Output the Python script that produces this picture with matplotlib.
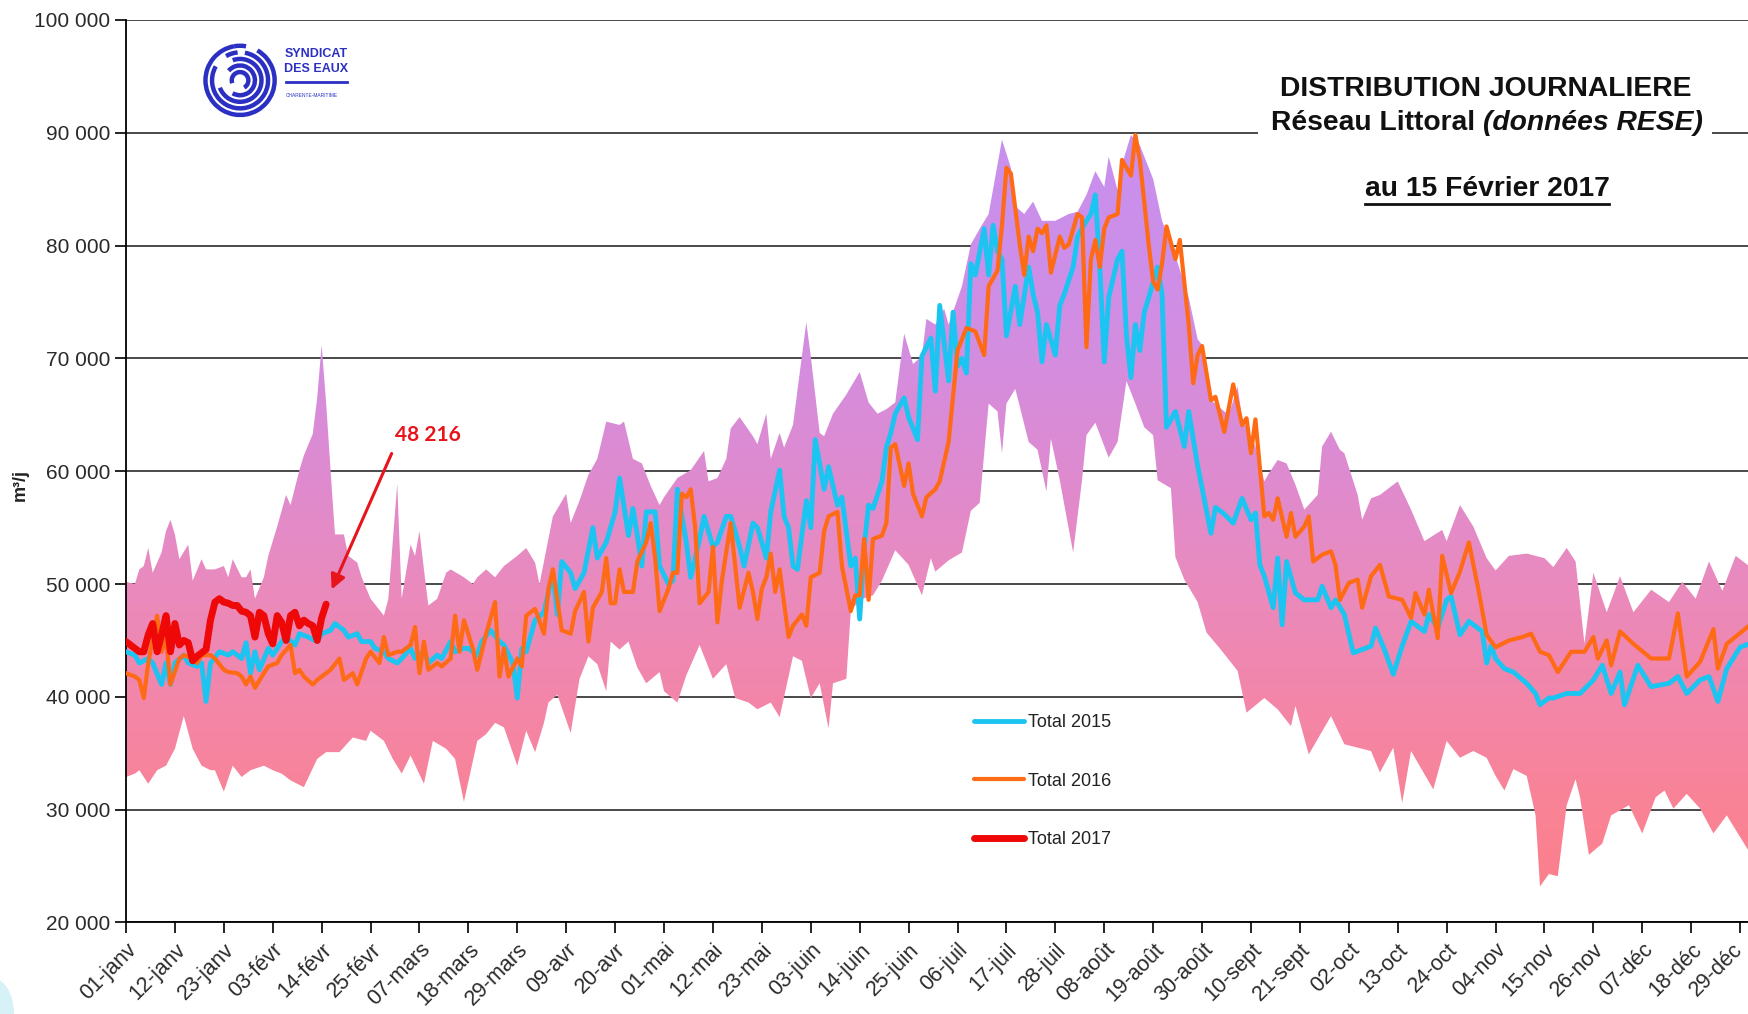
import numpy as np
import matplotlib
matplotlib.use("Agg")
import matplotlib.pyplot as plt
import matplotlib.transforms as mtransforms
from matplotlib.colors import LinearSegmentedColormap
from matplotlib.patches import Arc, Rectangle, Ellipse
from matplotlib.lines import Line2D
from matplotlib.ticker import FuncFormatter

plt.rcParams['font.family'] = ['Liberation Sans', 'DejaVu Sans']

# --- data (day of year, m3/day) ---
env_max = [(0,50200),(2,50000),(3,51300),(4,51600),(5,53200),(6,51000),(8,52800),(9,54700),(10,55700),(11,54400),
           (12,52200),(14,53500),(15,50300),(17,52200),(18,51300),(20,51300),(22,51600),(23,50600),(24,52200),(26,50600),
           (27,50600),(28,51300),(29,48700),(31,50600),(32,52500),(34,55100),(36,57900),(37,57000),(39,60100),(40,61400),
           (42,63300),(43,66500),(44,71200),(45,66100),(46,60100),(47,54400),(49,54400),(50,52500),(52,51900),(53,50600),
           (55,48700),(58,47200),(59,48700),(61,58900),(62,48700),(64,53500),(65,52500),(66,54700),(67,51300),(68,48100),
           (70,48700),(72,51000),(73,51300),(76,50600),(78,50000),(79,50600),(81,51300),(83,50600),(85,51600),(88,52500),
           (90,53200),(92,51900),(93,50000),(96,56000),(99,58000),(100,55400),(102,57400),(104,59700),(106,61100),(108,64400),
           (111,64100),(112,64400),(114,61100),(116,60700),(118,58700),(120,57000),(121,57700),(124,59400),(127,60100),(130,61800),
           (131,59100),(133,59400),(135,61100),(136,63800),(138,64800),(141,63100),(142,62400),(144,65100),(145,61100),(147,63400),
           (148,62100),(150,64100),(152,70200),(153,73200),(154,70200),(156,63400),(157,63100),(159,65100),(162,66800),(165,68800),
           (167,66100),(169,65100),(171,65500),(173,66100),(175,72200),(177,69500),(179,70200),(180,73500),(182,73000),(184,74400),
           (185,73000),(188,76400),(190,80100),(192,81500),(194,82800),(197,89400),(199,86900),(200,83500),(202,82800),(204,83900),
           (206,82200),(209,82200),(212,82800),(214,83000),(216,84500),(218,86600),(220,85200),(221,87900),(223,84900),(224,87200),
           (226,89800),(228,88900),(231,85900),(233,82200),(236,79100),(239,75400),(241,71700),(242,71200),(244,66300),(247,65300),
           (248,65000),(250,67500),(251,64700),(254,62200),(256,59100),(257,59800),(259,61000),(261,60700),(263,58800),(265,56600),
           (268,57900),(269,62200),(271,63500),(273,61900),(274,61600),(277,57900),(278,55700),(280,57600),(282,57900),(286,59100),
           (289,56600),(292,53800),(296,54800),(297,53800),(300,57000),(303,55100),(306,52300),(308,51200),(311,52500),(315,52700),
           (319,52300),(321,51500),(324,53200),(326,52000),(328,44700),(330,51000),(333,47500),(336,50700),(339,47500),(343,49500),
           (347,48400),(350,50200),(353,48700),(356,52000),(359,49400),(362,52500),(365,51600)]

env_min = [(0,32900),(2,33200),(3,33500),(5,32300),(7,33500),(9,33900),(11,35400),(13,38300),(15,35400),(17,33900),
           (19,33500),(20,33500),(22,31600),(24,33900),(26,32900),(28,33500),(31,33900),(33,33500),(35,33200),(37,32600),
           (40,32000),(43,34500),(45,35100),(48,35100),(51,36400),(54,36100),(55,37000),(58,36100),(60,34500),(62,33200),
           (64,34800),(67,32300),(69,36100),(72,35400),(74,34500),(76,30700),(79,36100),(81,36700),(83,37700),(85,37300),
           (88,33900),(90,37000),(92,35100),(94,37700),(95,39500),(97,40200),(100,36800),(102,41600),(104,43600),(106,42900),
           (108,40500),(109,44900),(111,44200),(113,44900),(115,42600),(117,41200),(120,42200),(121,40500),(124,39500),(126,41900),
           (129,44600),(132,41600),(135,42900),(137,39900),(140,39500),(142,38900),(145,39500),(147,38200),(150,43600),(152,43200),
           (154,39900),(156,41200),(158,37200),(159,41200),(162,41600),(163,47600),(165,48600),(168,49000),(170,50300),(173,53000),
           (176,51700),(179,49000),(181,52300),(182,51100),(185,52100),(188,52800),(190,56500),(192,57200),(194,66000),(196,65300),
           (197,61600),(198,66000),(200,67300),(203,62600),(205,61900),(207,58200),(208,62900),(210,59200),(213,52800),(215,59200),
           (216,63200),(218,64300),(221,61200),(223,62600),(225,68000),(227,66000),(229,63900),(231,63200),(232,59200),(235,58500),
           (236,52400),(238,50400),(241,48400),(243,45700),(246,44300),(250,42300),(252,38600),(256,39900),(259,38900),(262,37400),
           (263,39200),(266,34900),(271,38300),(274,35800),(277,35500),(280,35200),(282,33300),(285,35500),(287,30600),(289,35200),
           (294,31800),(297,36100),(300,34600),(303,35200),(306,34600),(308,33000),(310,31700),(312,33600),(315,33000),(317,29500),
           (318,23200),(320,24300),(322,24100),(324,30400),(326,32700),(327,31100),(329,26000),(332,27000),(334,29500),(338,30400),
           (341,27900),(344,31100),(346,31700),(348,30100),(351,31400),(354,30100),(357,27900),(360,29500),(365,26300)]

total_2015 = [(0,44000),(2,43700),(3,43000),(5,43400),(6,43000),(8,41100),(9,43000),(10,41100),(11,43000),(13,43700),
              (14,43000),(16,42700),(17,43000),(18,39600),(19,43000),(21,44000),(23,43700),(24,44000),(26,43400),(27,44800),
              (28,42100),(29,44000),(30,42400),(32,44300),(33,43700),(35,44900),(36,45300),(38,44600),(39,45600),(41,45300),
              (43,44900),(44,45600),(46,45900),(47,46500),(49,45900),(50,45300),(52,45600),(53,44900),(55,44900),(56,44300),
              (58,44000),(59,43400),(61,43000),(62,43400),(64,44300),(65,43400),(67,44000),(68,43000),(70,43700),(71,43400),
              (73,44900),(74,44000),(76,44300),(77,44300),(79,43700),(80,44900),(82,45900),(84,44900),(85,44600),(87,43000),
              (88,39900),(89,44300),(90,44000),(92,46800),(94,47500),(96,51000),(97,47300),(98,52000),(100,51000),(101,49600),
              (103,51000),(105,55000),(106,52300),(108,53700),(110,56400),(111,59400),(113,54300),(114,56700),(115,54300),(116,51600),
              (117,56400),(119,56400),(120,51600),(122,50000),(123,50300),(124,58400),(126,53700),(127,50600),(129,54000),(130,56000),
              (132,53300),(133,53700),(135,56000),(136,56000),(138,53300),(139,51600),(141,55400),(142,55000),(144,52300),(145,56400),
              (147,60100),(148,56000),(149,55000),(150,51600),(151,51300),(153,57400),(154,55000),(155,62800),(156,60700),(157,58400),
              (158,60400),(160,57000),(161,57700),(163,51600),(164,52300),(165,46900),(166,53300),(167,57000),(168,56700),(170,59100),
              (171,62100),(172,63400),(173,65100),(175,66500),(176,64800),(178,62800),(179,70200),(181,71800),(182,67100),(183,74700),
              (185,68000),(186,74100),(187,69300),(188,70000),(189,68700),(190,78400),(191,77400),(193,81500),(194,77400),(195,81800),
              (196,79500),(197,78800),(198,72000),(200,76400),(201,73000),(203,78100),(204,75700),(205,74100),(206,69700),(207,73000),
              (209,70300),(210,74700),(211,75700),(213,78100),(214,80800),(216,82200),(217,82800),(218,84500),(219,78100),(220,69700),
              (221,75400),(223,78800),(224,79500),(225,72000),(226,68300),(227,73000),(228,70700),(229,74100),(230,75400),(232,78100),
              (233,75700),(234,63900),(236,65300),(238,62200),(239,65300),(241,60500),(244,54500),(245,56800),(247,56200),(249,55400),
              (251,57600),(253,55700),(254,56300),(255,51700),(256,50700),(258,47900),(259,52300),(260,46400),(261,52000),(263,49200),
              (265,48600),(268,48600),(269,49800),(271,47900),(272,48600),(274,47300),(276,43900),(280,44500),(281,46100),(283,44200),
              (285,42000),(287,44500),(289,46700),(292,45800),(293,47300),(295,46100),(297,48600),(298,48900),(300,45500),(302,46700),
              (305,45800),(306,43000),(307,44500),(308,43400),(310,42500),(312,42200),(315,41200),(317,40300),(318,39300),(320,39900),
              (321,39900),(324,40300),(327,40300),(330,41500),(332,42800),(334,40300),(336,42200),(337,39300),(340,42800),(343,40900),
              (347,41200),(349,41800),(351,40300),(354,41500),(356,41800),(358,39600),(360,42500),(363,44400),(365,44700)]

total_2016 = [(0,42100),(2,41800),(3,41500),(4,39900),(5,43000),(7,47200),(8,44000),(9,45300),(10,41100),(12,43400),
              (13,43700),(15,43400),(16,43000),(17,43700),(19,43700),(20,43400),(22,42400),(23,42200),(25,42100),(26,41800),
              (27,41100),(28,41800),(29,40800),(31,42100),(32,42700),(34,43000),(35,43700),(37,44600),(38,42100),(39,42400),
              (40,41800),(42,41100),(43,41500),(45,42100),(46,42400),(48,43400),(49,41500),(51,42100),(52,41100),(54,43400),
              (55,44000),(57,43000),(58,45300),(59,43700),(61,44000),(62,44000),(64,44600),(65,46200),(66,42100),(67,44900),
              (68,42400),(70,43000),(71,42700),(73,43400),(74,47200),(75,44000),(76,46800),(78,44300),(79,42400),(81,45600),
              (83,48400),(84,41800),(85,44300),(86,41800),(88,43400),(89,42700),(90,47200),(92,47800),(94,45600),(95,49600),
              (96,51300),(97,48600),(98,45900),(100,45600),(101,47600),(103,49300),(104,44900),(105,47900),(107,49300),(108,52300),
              (109,48300),(110,48300),(111,51300),(112,49300),(114,49300),(115,52000),(117,53700),(118,55400),(119,52300),(120,47600),
              (122,49600),(123,51000),(124,51000),(125,58000),(126,57700),(127,58400),(128,55000),(129,48300),(131,49300),(132,53300),
              (133,46600),(134,50300),(136,55400),(137,51600),(138,47900),(140,51000),(141,49300),(142,46900),(143,49600),(144,50600),
              (145,52700),(146,49300),(147,51300),(149,45300),(150,46300),(152,47300),(153,46300),(154,50600),(156,51000),(157,54700),
              (158,56000),(160,56400),(161,51600),(163,47600),(164,49000),(165,49000),(166,54000),(167,48600),(168,54000),(170,54300),
              (171,55400),(172,62100),(173,62400),(175,58700),(176,60700),(177,58000),(179,56000),(180,57700),(182,58400),(183,59100),
              (185,62600),(187,70700),(189,72700),(191,72400),(193,70300),(194,76400),(196,77800),(197,81800),(198,86900),(199,86400),
              (201,80100),(202,77400),(203,80800),(204,79500),(205,81500),(206,81100),(207,81800),(208,77600),(210,80800),(211,79800),
              (212,80100),(214,82800),(215,82500),(216,71000),(217,78800),(218,80500),(219,78100),(220,81500),(221,82500),(223,82800),
              (224,87600),(226,86200),(227,89800),(228,87600),(230,80100),(231,76800),(232,76100),(233,78400),(234,81700),(236,78800),
              (237,80500),(239,73000),(240,67800),(241,70300),(242,71100),(244,66300),(245,66600),(247,63500),(249,67700),(251,64100),
              (252,64700),(253,61600),(254,64600),(256,56000),(257,56300),(258,55700),(259,57600),(261,54200),(262,56300),(263,54200),
              (265,55100),(266,56000),(267,52000),(269,52600),(271,52900),(272,51700),(273,48600),(275,50100),(277,50400),(278,47900),
              (280,50700),(282,51700),(284,48900),(287,48600),(289,47000),(290,49200),(292,47300),(293,49500),(295,45200),(296,52500),
              (298,49200),(300,51100),(302,53700),(304,49800),(306,45500),(308,44400),(311,45000),(314,45300),(316,45600),(318,44000),
              (320,43700),(322,42200),(325,44000),(328,44000),(330,45300),(331,43400),(333,45000),(334,42800),(336,45800),(339,44700),
              (343,43400),(347,43400),(349,47400),(351,41800),(354,43100),(357,46000),(358,42500),(360,44700),(365,46300)]

# 2017, one value per day from 1 Jan to 15 Feb
total_2017 = [44900, 44600, 44300, 44000, 44000, 45500, 46500, 44000, 45500, 47200,
              44000, 46500, 44600, 45000, 44800, 43200, 43600, 43900, 44200, 46800,
              48400, 48700, 48400, 48300, 48100, 48100, 47600, 47500, 47200, 45300,
              47500, 47200, 45600, 44700, 47200, 46600, 45000, 47200, 47500, 46300,
              46800, 46500, 46300, 45000, 47000, 48216]

tick_labels = ['01-janv', '12-janv', '23-janv', '03-févr', '14-févr', '25-févr', '07-mars', '18-mars',
               '29-mars', '09-avr', '20-avr', '01-mai', '12-mai', '23-mai', '03-juin', '14-juin',
               '25-juin', '06-juil', '17-juil', '28-juil', '08-août', '19-août', '30-août', '10-sept',
               '21-sept', '02-oct', '13-oct', '24-oct', '04-nov', '15-nov', '26-nov', '07-déc',
               '18-déc', '29-déc']

c2015 = '#1cc4f2'
c2016 = '#ff6a14'
c2017 = '#ee0808'

fig = plt.figure(figsize=(17.49, 10.14), dpi=100)
ax = fig.add_axes([0.07204, 0.09024, 0.92796, 0.89004])

# min/max envelope with vertical gradient
top = np.array(env_max, dtype=float)
bot = np.array(env_min, dtype=float)
px = np.concatenate([top[:, 0], bot[::-1, 0]])
py = np.concatenate([top[:, 1], bot[::-1, 1]])
band = ax.fill(px, py, facecolor='none', edgecolor='none', zorder=2)[0]
band_cmap = LinearSegmentedColormap.from_list('band', [
    (0.0, '#fc7e88'), (0.125, '#f98396'), (0.25, '#f386aa'), (0.375, '#e98abe'),
    (0.5, '#de8bd0'), (0.625, '#d48ddf'), (0.75, '#cc8fea'), (1.0, '#c690f2')])
grad = np.linspace(0, 1, 256).reshape(-1, 1)
img = ax.imshow(grad, extent=[0, 366, 20000, 100000], origin='lower', aspect='auto',
                cmap=band_cmap, zorder=2, interpolation='bilinear')
img.set_clip_path(band)

a15 = np.array(total_2015, dtype=float)
a16 = np.array(total_2016, dtype=float)
ax.plot(a15[:, 0], a15[:, 1], color=c2015, lw=3.5, zorder=3, label='Total 2015',
        solid_capstyle='round', solid_joinstyle='round')
ax.plot(a16[:, 0], a16[:, 1], color=c2016, lw=3.0, zorder=4, label='Total 2016',
        solid_capstyle='round', solid_joinstyle='round')
ax.plot(np.arange(len(total_2017)), total_2017, color=c2017, lw=5, zorder=5, label='Total 2017',
        solid_capstyle='round', solid_joinstyle='round')

ax.set_xlim(0, 365)
ax.set_ylim(20000, 100000)

ax.set_yticks(np.arange(20000, 100001, 10000))
ax.yaxis.set_major_formatter(FuncFormatter(lambda v, p: f'{int(v):,}'.replace(',', ' ')))
ax.set_xticks(np.arange(len(tick_labels)) * 11)
ax.set_xticklabels(tick_labels, rotation=45, ha='right', va='top', rotation_mode='anchor')
ax.tick_params(axis='both', direction='out', length=8, width=1.2, color='black',
               labelcolor='#2a2a2a')
ax.tick_params(axis='y', labelsize=15)
ax.tick_params(axis='x', labelsize=15.5, pad=4)
# nudge the last label so it stays inside the picture
last = ax.get_xticklabels()[-1]
last.set_transform(last.get_transform() + mtransforms.ScaledTranslation(-6 / 72, 0, fig.dpi_scale_trans))

for s in ['top', 'right']:
    ax.spines[s].set_visible(False)
for s in ['left', 'bottom']:
    ax.spines[s].set_linewidth(1.3)
    ax.spines[s].set_color('black')

ax.set_axisbelow(True)
ax.grid(axis='y', color='#3a3a3a', lw=1.3)
ax.grid(axis='x', visible=False)

ax.set_ylabel('m³/j', fontsize=13, fontweight='bold', color='#222222')
ax.yaxis.set_label_coords(-0.060, 0.485)

# annotation of last value
ax.text(68, 63200, '48 216', color='#e8141c', fontsize=15, fontweight='bold',
        family=['Lato', 'DejaVu Sans'], ha='center', va='center')
ax.annotate('', xy=(46, 49300), xytext=(60, 61800),
            arrowprops=dict(arrowstyle='-|>', color='#e8141c', lw=2.2, mutation_scale=22))

leg = ax.legend(loc='upper left', bbox_to_anchor=(0.517, 0.241), frameon=False, borderpad=0,
                handlelength=2.77, handletextpad=0.2, labelspacing=2.3, fontsize=13)
for t in leg.get_texts():
    t.set_color('#222222')

# title block
fig.add_artist(Rectangle((0.7193, 0.862), 0.2596, 0.0394, transform=fig.transFigure,
                         facecolor='white', edgecolor='none', zorder=2))
fig.text(0.8496, 0.912, 'DISTRIBUTION JOURNALIERE', ha='center', va='center',
         fontsize=20.3, fontweight='bold', color='#111111', zorder=4)
t1 = fig.text(0.7266, 0.879, 'Réseau Littoral', ha='left', va='center',
              fontsize=20.3, fontweight='bold', color='#111111', zorder=4)
t3 = fig.text(0.8502, 0.8133, 'au 15 Février 2017', ha='center', va='center',
              fontsize=20.3, fontweight='bold', color='#111111', zorder=4)
fig.canvas.draw()
r = fig.canvas.get_renderer()
bb1 = t1.get_window_extent(r)
W, H = fig.bbox.width, fig.bbox.height
fig.text((bb1.x1 + 8) / W, 0.879, '(données RESE)', ha='left', va='center',
         fontsize=20.3, fontweight='bold', style='italic', color='#111111', zorder=4)
bb3 = t3.get_window_extent(r)
fig.add_artist(Line2D([bb3.x0 / W, bb3.x1 / W], [(bb3.y0 - 2) / H] * 2,
                      transform=fig.transFigure, color='#111111', lw=2))

# logo
lax = fig.add_axes([0.1155, 0.882, 0.0435, 0.0775])
lax.set_xlim(-1.1, 1.1)
lax.set_ylim(-1.1, 1.1)
lax.set_aspect('equal')
lax.axis('off')
blue = '#2b30c2'
arcs = [(2.0, 100, 420), (1.62, 150, 440), (1.24, 200, 470), (0.86, 240, 500), (0.48, 300, 560),
        (2.0, 440, 460), (1.62, 455, 480)]
for d, t0, t1a in arcs:
    lax.add_patch(Arc((0, 0), d, d, theta1=t0, theta2=t1a, color=blue, lw=3.2))
fig.text(0.1625, 0.947, 'SYNDICAT', ha='left', va='center', fontsize=9, fontweight='bold', color=blue)
fig.text(0.1625, 0.932, 'DES EAUX', ha='left', va='center', fontsize=9, fontweight='bold', color=blue)
fig.add_artist(Line2D([0.1635, 0.1985], [0.9195, 0.9195], transform=fig.transFigure, color=blue, lw=2))
fig.text(0.1635, 0.906, 'CHARENTE-MARITIME', ha='left', va='center', fontsize=3.5, color=blue)

# corner decoration
fig.add_artist(Ellipse((-0.004, 0.0), 0.024, 0.07, transform=fig.transFigure,
                       facecolor='#d6f2f6', edgecolor='none', zorder=0))

fig.savefig('out.png', dpi=100)
